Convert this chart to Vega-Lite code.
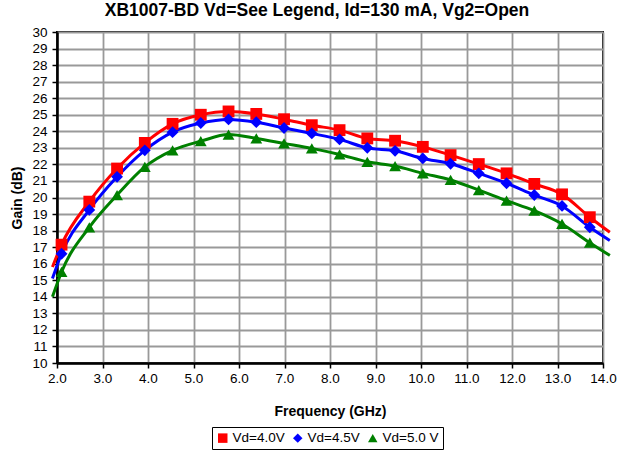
{
  "$schema": "https://vega.github.io/schema/vega-lite/v6.json",
  "width": 546,
  "height": 331,
  "autosize": {"type": "none"},
  "padding": {"left": 57, "top": 32, "right": 15, "bottom": 89},
  "background": "white",
  "config": {
    "font": "Liberation Sans",
    "view": {"stroke": "black", "strokeWidth": 2},
    "axis": {
      "grid": true,
      "gridColor": "#999999",
      "gridWidth": 1.8,
      "domainColor": "black",
      "domainWidth": 2.5,
      "tickColor": "black",
      "tickSize": 5,
      "tickWidth": 1.5,
      "labelFlush": false,
      "labelFontSize": 13.5,
      "labelColor": "black",
      "labelFont": "Liberation Sans",
      "titleFont": "Liberation Sans",
      "titleFontSize": 14,
      "titleFontWeight": "bold",
      "titleColor": "black"
    },
    "legend": {
      "strokeColor": "black",
      "strokeWidth": 1,
      "fillColor": "white",
      "padding": 4,
      "labelFontSize": 13.5,
      "labelColor": "black",
      "labelFont": "Liberation Sans",
      "symbolSize": 90,
      "columnPadding": 6,
      "labelOffset": 3,
      "symbolStrokeWidth": 0
    }
  },
  "title": {
    "text": "XB1007-BD Vd=See Legend, Id=130 mA, Vg2=Open",
    "font": "Liberation Sans",
    "fontSize": 17.5,
    "fontWeight": "bold",
    "color": "black",
    "anchor": "middle",
    "dx": -13,
    "offset": 6
  },
  "data": {
    "values": [
      {"f": 1.9, "g": 15.8, "s": "Vd=4.0V", "m": false},
      {"f": 2.10, "g": 17.15, "s": "Vd=4.0V", "m": true},
      {"f": 2.71, "g": 19.75, "s": "Vd=4.0V", "m": true},
      {"f": 3.32, "g": 21.75, "s": "Vd=4.0V", "m": true},
      {"f": 3.93, "g": 23.3, "s": "Vd=4.0V", "m": true},
      {"f": 4.54, "g": 24.45, "s": "Vd=4.0V", "m": true},
      {"f": 5.16, "g": 25.0, "s": "Vd=4.0V", "m": true},
      {"f": 5.77, "g": 25.2, "s": "Vd=4.0V", "m": true},
      {"f": 6.38, "g": 25.05, "s": "Vd=4.0V", "m": true},
      {"f": 6.99, "g": 24.73, "s": "Vd=4.0V", "m": true},
      {"f": 7.60, "g": 24.37, "s": "Vd=4.0V", "m": true},
      {"f": 8.21, "g": 24.07, "s": "Vd=4.0V", "m": true},
      {"f": 8.82, "g": 23.57, "s": "Vd=4.0V", "m": true},
      {"f": 9.43, "g": 23.43, "s": "Vd=4.0V", "m": true},
      {"f": 10.04, "g": 23.06, "s": "Vd=4.0V", "m": true},
      {"f": 10.65, "g": 22.56, "s": "Vd=4.0V", "m": true},
      {"f": 11.27, "g": 22.02, "s": "Vd=4.0V", "m": true},
      {"f": 11.88, "g": 21.46, "s": "Vd=4.0V", "m": true},
      {"f": 12.49, "g": 20.82, "s": "Vd=4.0V", "m": true},
      {"f": 13.10, "g": 20.19, "s": "Vd=4.0V", "m": true},
      {"f": 13.71, "g": 18.81, "s": "Vd=4.0V", "m": true},
      {"f": 14.15, "g": 17.9, "s": "Vd=4.0V", "m": false},
      {"f": 1.9, "g": 15.1, "s": "Vd=4.5V", "m": false},
      {"f": 2.10, "g": 16.6, "s": "Vd=4.5V", "m": true},
      {"f": 2.71, "g": 19.25, "s": "Vd=4.5V", "m": true},
      {"f": 3.32, "g": 21.25, "s": "Vd=4.5V", "m": true},
      {"f": 3.93, "g": 22.85, "s": "Vd=4.5V", "m": true},
      {"f": 4.54, "g": 23.95, "s": "Vd=4.5V", "m": true},
      {"f": 5.16, "g": 24.5, "s": "Vd=4.5V", "m": true},
      {"f": 5.77, "g": 24.72, "s": "Vd=4.5V", "m": true},
      {"f": 6.38, "g": 24.55, "s": "Vd=4.5V", "m": true},
      {"f": 6.99, "g": 24.2, "s": "Vd=4.5V", "m": true},
      {"f": 7.60, "g": 23.87, "s": "Vd=4.5V", "m": true},
      {"f": 8.21, "g": 23.51, "s": "Vd=4.5V", "m": true},
      {"f": 8.82, "g": 23.0, "s": "Vd=4.5V", "m": true},
      {"f": 9.43, "g": 22.82, "s": "Vd=4.5V", "m": true},
      {"f": 10.04, "g": 22.36, "s": "Vd=4.5V", "m": true},
      {"f": 10.65, "g": 22.04, "s": "Vd=4.5V", "m": true},
      {"f": 11.27, "g": 21.46, "s": "Vd=4.5V", "m": true},
      {"f": 11.88, "g": 20.86, "s": "Vd=4.5V", "m": true},
      {"f": 12.49, "g": 20.15, "s": "Vd=4.5V", "m": true},
      {"f": 13.10, "g": 19.49, "s": "Vd=4.5V", "m": true},
      {"f": 13.71, "g": 18.2, "s": "Vd=4.5V", "m": true},
      {"f": 14.15, "g": 17.4, "s": "Vd=4.5V", "m": false},
      {"f": 1.9, "g": 14.0, "s": "Vd=5.0 V", "m": false},
      {"f": 2.10, "g": 15.5, "s": "Vd=5.0 V", "m": true},
      {"f": 2.71, "g": 18.2, "s": "Vd=5.0 V", "m": true},
      {"f": 3.32, "g": 20.15, "s": "Vd=5.0 V", "m": true},
      {"f": 3.93, "g": 21.85, "s": "Vd=5.0 V", "m": true},
      {"f": 4.54, "g": 22.85, "s": "Vd=5.0 V", "m": true},
      {"f": 5.16, "g": 23.4, "s": "Vd=5.0 V", "m": true},
      {"f": 5.77, "g": 23.8, "s": "Vd=5.0 V", "m": true},
      {"f": 6.38, "g": 23.57, "s": "Vd=5.0 V", "m": true},
      {"f": 6.99, "g": 23.27, "s": "Vd=5.0 V", "m": true},
      {"f": 7.60, "g": 22.97, "s": "Vd=5.0 V", "m": true},
      {"f": 8.21, "g": 22.6, "s": "Vd=5.0 V", "m": true},
      {"f": 8.82, "g": 22.16, "s": "Vd=5.0 V", "m": true},
      {"f": 9.43, "g": 21.9, "s": "Vd=5.0 V", "m": true},
      {"f": 10.04, "g": 21.46, "s": "Vd=5.0 V", "m": true},
      {"f": 10.65, "g": 21.06, "s": "Vd=5.0 V", "m": true},
      {"f": 11.27, "g": 20.45, "s": "Vd=5.0 V", "m": true},
      {"f": 11.88, "g": 19.81, "s": "Vd=5.0 V", "m": true},
      {"f": 12.49, "g": 19.2, "s": "Vd=5.0 V", "m": true},
      {"f": 13.10, "g": 18.4, "s": "Vd=5.0 V", "m": true},
      {"f": 13.71, "g": 17.27, "s": "Vd=5.0 V", "m": true},
      {"f": 14.15, "g": 16.5, "s": "Vd=5.0 V", "m": false}
    ]
  },
  "encoding": {
    "x": {
      "field": "f",
      "type": "quantitative",
      "scale": {"domain": [2, 14], "nice": false, "zero": false},
      "axis": {
        "title": "Frequency (GHz)",
        "values": [2, 3, 4, 5, 6, 7, 8, 9, 10, 11, 12, 13, 14],
        "format": ".1f",
        "labelPadding": 3,
        "titlePadding": 20
      }
    },
    "y": {
      "field": "g",
      "type": "quantitative",
      "scale": {"domain": [10, 30], "nice": false, "zero": false},
      "axis": {
        "title": "Gain (dB)",
        "values": [10, 11, 12, 13, 14, 15, 16, 17, 18, 19, 20, 21, 22, 23, 24, 25, 26, 27, 28, 29, 30],
        "labelPadding": 5,
        "titlePadding": 7
      }
    },
    "color": {
      "field": "s",
      "type": "nominal",
      "scale": {"domain": ["Vd=4.0V", "Vd=4.5V", "Vd=5.0 V"], "range": ["#FF0000", "#0000FF", "#008000"]},
      "legend": {"title": null, "orient": "none", "direction": "horizontal", "legendX": 155, "legendY": 395}
    }
  },
  "layer": [
    {
      "mark": {"type": "line", "strokeWidth": 3, "interpolate": "monotone"}
    },
    {
      "transform": [{"filter": "datum.m"}],
      "mark": {"type": "point", "filled": true, "opacity": 1, "size": 140},
      "encoding": {
        "shape": {
          "field": "s",
          "type": "nominal",
          "scale": {"domain": ["Vd=4.0V", "Vd=4.5V", "Vd=5.0 V"], "range": ["square", "diamond", "triangle-up"]},
          "legend": {"title": null, "orient": "none", "direction": "horizontal", "legendX": 155, "legendY": 395}
        }
      }
    }
  ]
}
